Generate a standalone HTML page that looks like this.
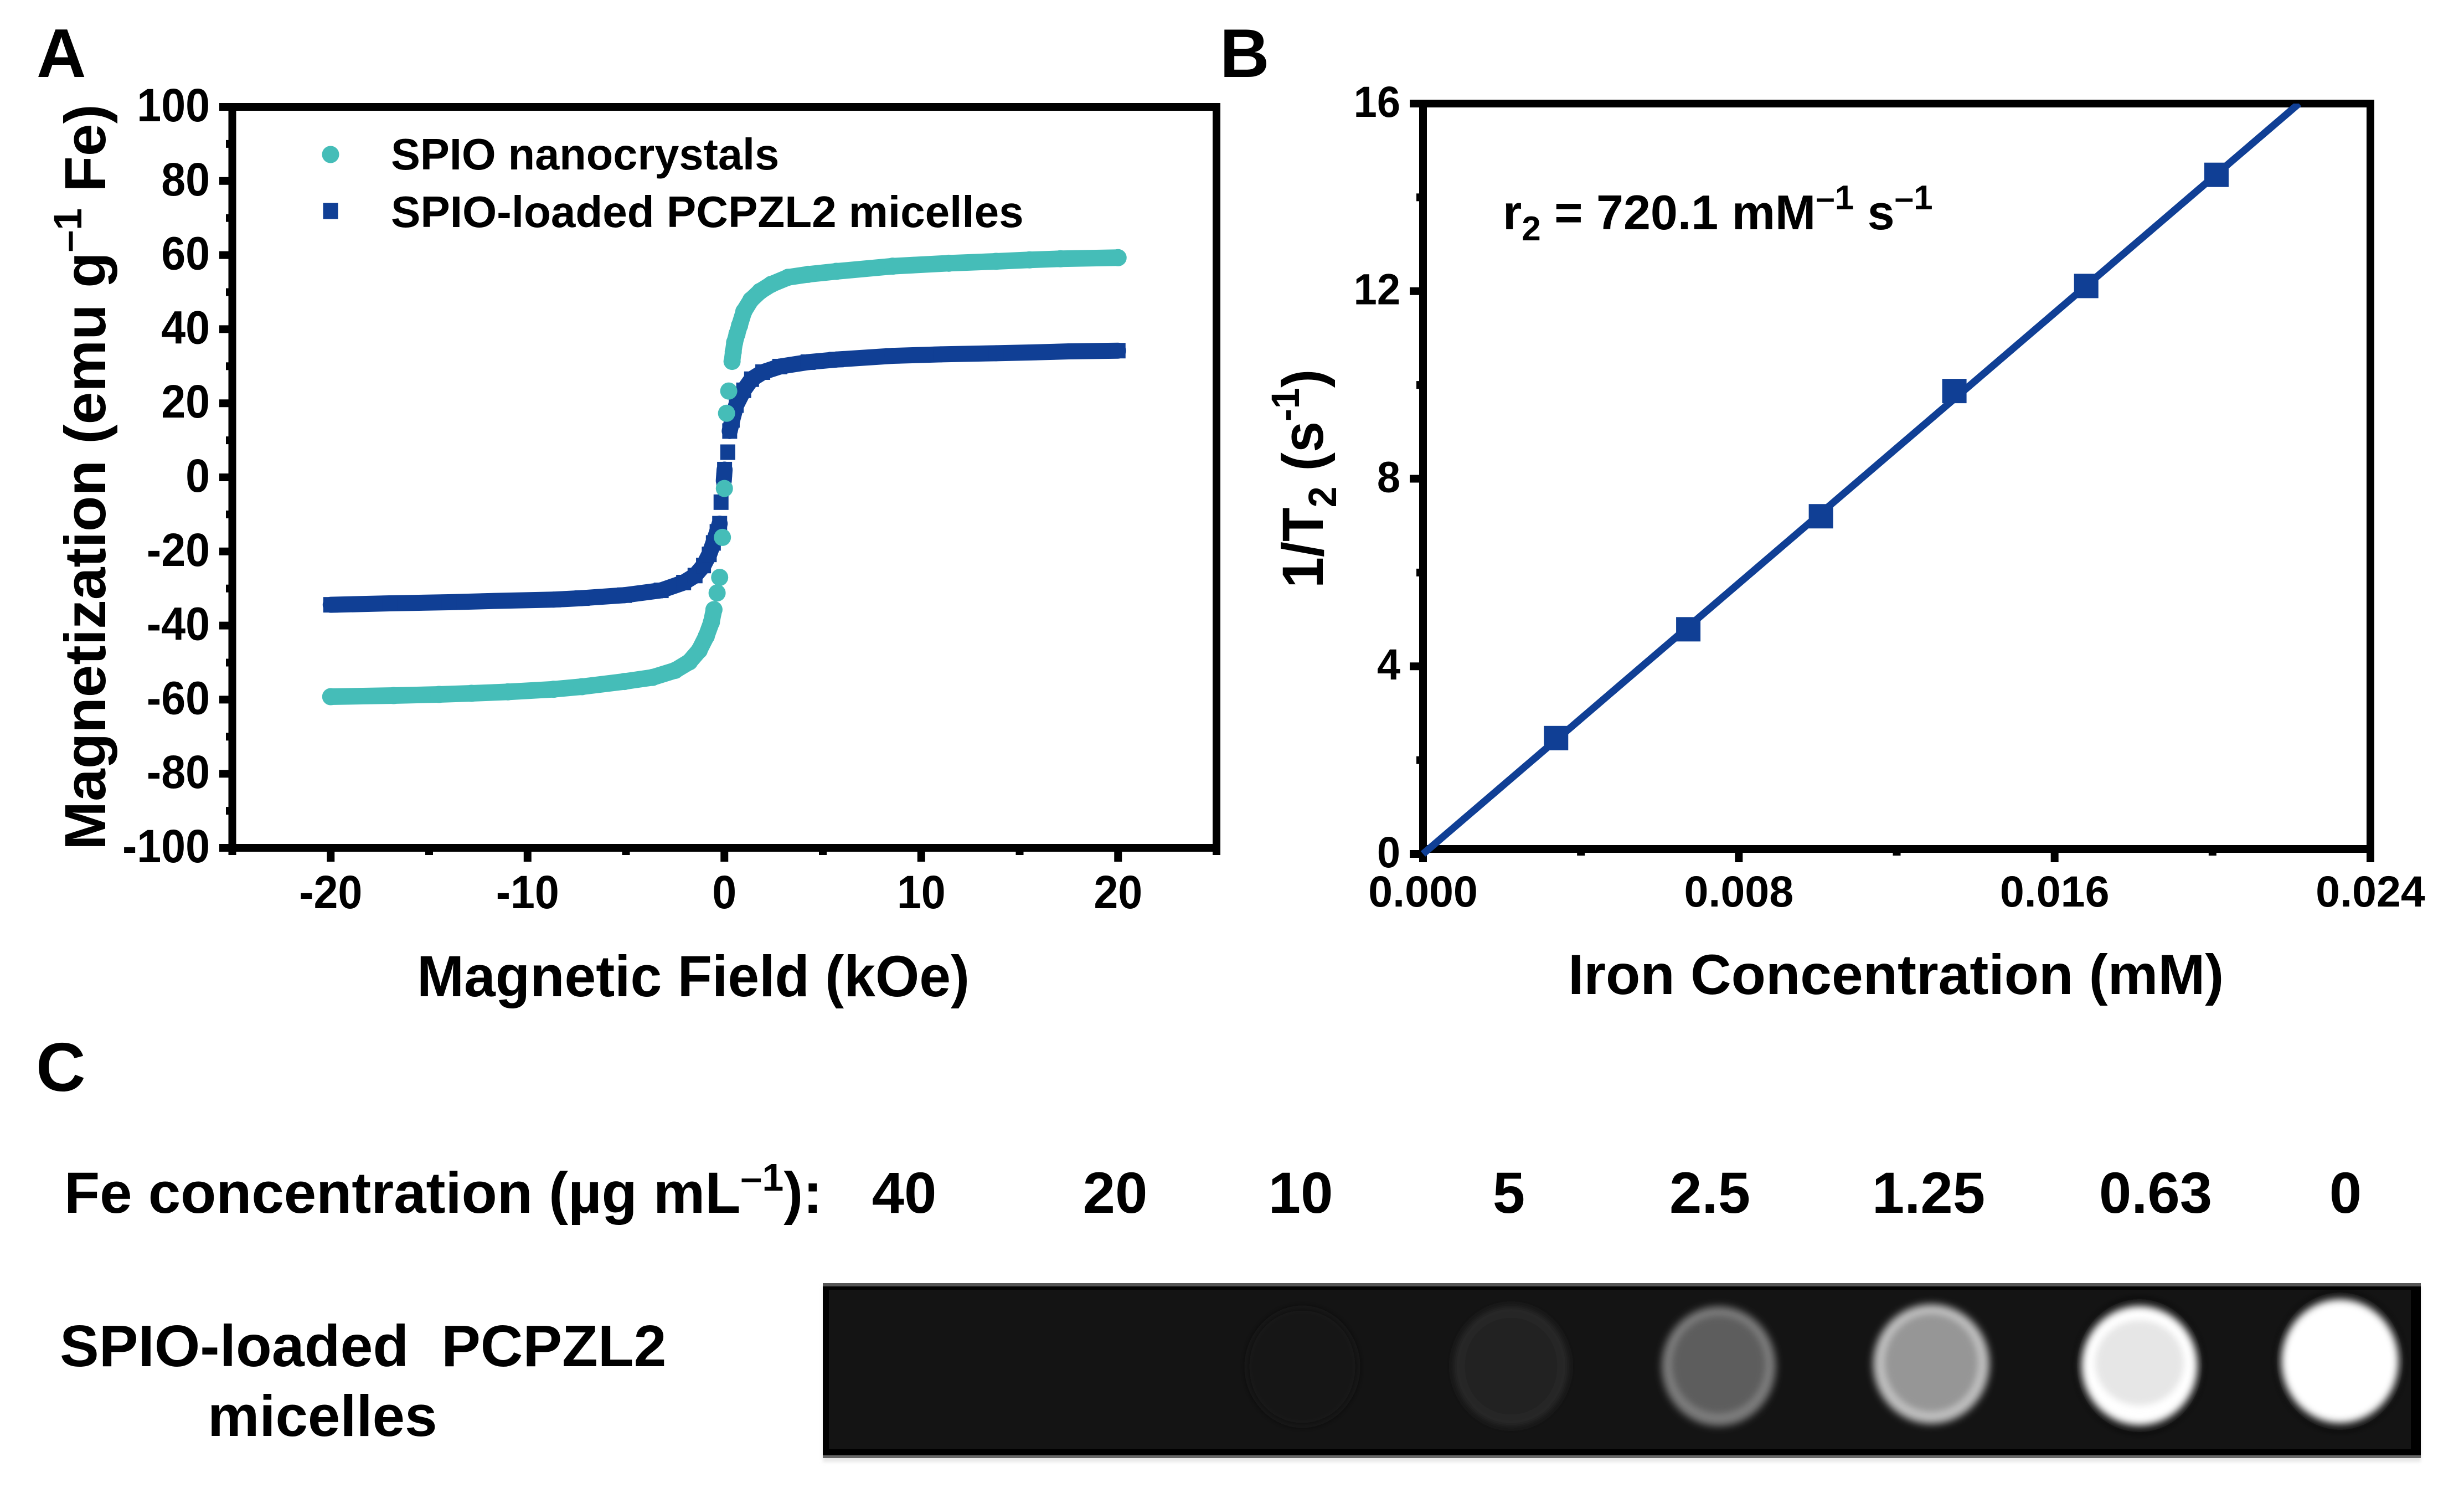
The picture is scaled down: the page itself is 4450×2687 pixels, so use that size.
<!DOCTYPE html>
<html lang="en">
<head>
<meta charset="utf-8">
<title>SPIO magnetization and relaxivity figure</title>
<style>
  html, body { margin: 0; padding: 0; background: #fff; }
  svg { display: block; }
  text { font-family: "Liberation Sans", Arial, sans-serif; font-weight: bold; fill: #000; }
</style>
</head>
<body>
<svg id="figure" xmlns="http://www.w3.org/2000/svg" width="4450" height="2687" viewBox="0 0 4450 2687">
  <defs>
    <filter id="soft" x="-20%" y="-20%" width="140%" height="140%"><feGaussianBlur stdDeviation="7"/></filter>
    <filter id="softer" x="-20%" y="-20%" width="140%" height="140%"><feGaussianBlur stdDeviation="6"/></filter>
    <filter id="edge" x="-5%" y="-20%" width="110%" height="140%"><feGaussianBlur stdDeviation="3"/></filter>
    <clipPath id="plot-b-clip"><rect x="2560" y="187" width="1730" height="1370"/></clipPath>
  </defs>
  <rect width="4450" height="2687" fill="#fff"/>

  <text x="66" y="139" font-size="124">A</text>
  <text x="2203" y="139" font-size="124">B</text>
  <text x="65" y="1970" font-size="124">C</text>

  <g id="panel-a"></g>
  <g id="panel-b"></g>

  <!-- Panel A text -->
  <text transform="translate(190,1535) rotate(-90) scale(1.006,1)" font-size="105">Magnetization (emu g<tspan font-size="71" dy="-43">–1</tspan><tspan dy="43"> Fe)</tspan></text>
  <text transform="translate(753,1799) scale(.972,1)" font-size="105">Magnetic Field (kOe)</text>

  <circle cx="597" cy="279" r="15.5" fill="#45BDB8"/>
  <rect x="583.5" y="366.5" width="27" height="29" fill="#103F95"/>
  <text transform="translate(706,306) scale(.992,1)" font-size="80">SPIO nanocrystals</text>
  <text x="706" y="410" font-size="80">SPIO-loaded PCPZL2 micelles</text>

  <!-- Panel B text -->
  <text transform="translate(2389,1062) rotate(-90) scale(.96,1)" font-size="105">1/T<tspan font-size="71" dy="24">2</tspan><tspan dy="-24"> (s</tspan><tspan font-size="71" dy="-43">-1</tspan><tspan dy="43">)</tspan></text>
  <text x="2832" y="1795" font-size="102">Iron Concentration (mM)</text>
  <text x="2714" y="414" font-size="88">r<tspan font-size="62" dy="20">2</tspan><tspan dy="-20"> = 720.1 mM</tspan><tspan font-size="62" dy="-36">–1</tspan><tspan dy="36"> s</tspan><tspan font-size="62" dy="-36">–1</tspan></text>

  <!-- Panel C text -->
  <text x="116" y="2190" font-size="105">Fe concentration (µg mL<tspan font-size="70" dy="-40">–1</tspan><tspan dy="40">):</tspan></text>
  <g text-anchor="middle" font-size="105">
    <text x="1633" y="2190">40</text>
    <text x="2014" y="2190">20</text>
    <text x="2349" y="2190">10</text>
    <text x="2725" y="2190">5</text>
    <text x="3088" y="2190">2.5</text>
    <text x="3483" y="2190">1.25</text>
    <text x="3893" y="2190">0.63</text>
    <text x="4236" y="2190">0</text>
  </g>
  <text x="108" y="2467" font-size="106" xml:space="preserve">SPIO-loaded  PCPZL2</text>
  <text x="375" y="2593" font-size="105">micelles</text>

  <!-- Panel C phantom image -->
  <g>
    <rect x="1486" y="2322" width="2886" height="318" fill="#e8e8e8" filter="url(#edge)"/>
    <rect x="1486" y="2317" width="2886" height="316" fill="#000"/>
    <rect x="1486" y="2317" width="2886" height="6" fill="#555"/>
    <rect x="1486" y="2628" width="2886" height="5" fill="#666"/>
    <rect x="1497" y="2329" width="2857" height="288" fill="#141414"/>
    <g filter="url(#soft)">
      <ellipse cx="2352" cy="2468" rx="100" ry="106" fill="#191919"/>
      <ellipse cx="2352" cy="2468" rx="88" ry="94" fill="#161616"/>
    </g>
    <g filter="url(#soft)">
      <ellipse cx="2729" cy="2467" rx="103" ry="108" fill="#292929"/>
      <ellipse cx="2729" cy="2467" rx="88" ry="92" fill="#202020"/>
    </g>
    <g>
      <ellipse cx="3104" cy="2467" rx="103" ry="108" fill="#7c7c7c" filter="url(#soft)"/>
      <ellipse cx="3104" cy="2464" rx="84" ry="88" fill="#5d5d5d" filter="url(#softer)"/>
    </g>
    <g>
      <ellipse cx="3488" cy="2463" rx="105" ry="108" fill="#bebebe" filter="url(#soft)"/>
      <ellipse cx="3488" cy="2461" rx="84" ry="88" fill="#969696" filter="url(#softer)"/>
    </g>
    <g>
      <ellipse cx="3864" cy="2466" rx="113" ry="120" fill="#0a0a0a" filter="url(#soft)"/>
      <ellipse cx="3864" cy="2466" rx="105" ry="108" fill="#ffffff" filter="url(#soft)"/>
      <ellipse cx="3864" cy="2461" rx="80" ry="77" fill="#e6e6e6" filter="url(#softer)"/>
    </g>
    <g>
      <ellipse cx="4226" cy="2458" rx="114" ry="124" fill="#0a0a0a" filter="url(#soft)"/>
      <ellipse cx="4226" cy="2458" rx="106" ry="112" fill="#ffffff" filter="url(#soft)"/>
    </g>
  </g>
</svg>

<script>
// ---------- Panel A data ----------
const aXTickValues = [-20, -10, 0, 10, 20];
const aXTickLabels = ['-20', '-10', '0', '10', '20'];
const aXMinorValues = [-25, -15, -5, 5, 15, 25];
const aYTickValues = [100, 80, 60, 40, 20, 0, -20, -40, -60, -80, -100];
const aYTickLabels = ['100', '80', '60', '40', '20', '0', '-20', '-40', '-60', '-80', '-100'];
const aYMinorValues = [90, 70, 50, 30, 10, -10, -30, -50, -70, -90];

const micellesField = [-20, -17, -14, -12, -8.67, -7.23, -5.08, -3.21, -2.07, -1.49, -1.06, -0.77, -0.56, -0.37, -0.24, -0.17, -0.03, 0.01, 0.17, 0.27, 0.4, 0.6, 0.98, 1.38, 1.95, 2.81, 4.25, 5.68, 8.55, 11, 13.8, 15.5, 17.5, 20];
const micellesMag = [-34.4, -34, -33.7, -33.4, -33, -32.6, -31.8, -30.5, -28.4, -26.5, -23.8, -20.8, -17.7, -14.7, -12.5, -6.7, -0.9, 2.1, 6.8, 12.5, 15.5, 19.5, 23.5, 26.5, 28.4, 29.9, 31.1, 31.8, 32.8, 33.2, 33.5, 33.7, 34, 34.2];

const nanocrystalsField = [-20, -16.8, -14.5, -12.85, -11, -8.67, -7.23, -5.08, -3.65, -2.5, -1.78, -1.28, -0.92, -0.66, -0.53, -0.37, -0.24, -0.1, 0, 0.11, 0.22, 0.39, 0.45, 0.52, 0.64, 0.77, 0.99, 1.35, 1.81, 2.38, 3.24, 4.25, 5.68, 8.55, 11.4, 13.8, 15.5, 17.07, 20];
const nanocrystalsMag = [-59.2, -58.9, -58.6, -58.3, -57.9, -57.2, -56.5, -55.1, -54, -52.1, -49.8, -46.7, -42.9, -39.1, -35.7, -31.2, -27, -16.2, -3, 17.3, 23.3, 31.3, 33.9, 36.4, 38.7, 41, 44.8, 47.9, 50.2, 52.1, 54, 54.8, 55.6, 57, 57.8, 58.3, 58.7, 59, 59.3];

// ---------- Panel B data ----------
const bXTickValues = [0, 0.008, 0.016, 0.024];
const bXTickLabels = ['0.000', '0.008', '0.016', '0.024'];
const bXMinorValues = [0.004, 0.012, 0.02];
const bYTickValues = [16, 12, 8, 4, 0];
const bYTickLabels = ['16', '12', '8', '4', '0'];
const bYMinorValues = [14, 10, 6, 2];

const ironConcentration = [0.00337, 0.00672, 0.01008, 0.01346, 0.0168, 0.0201];
const relaxationRate = [2.47, 4.79, 7.2, 9.87, 12.11, 14.48];
const fitConcentration = [0, 0.02219];
const fitRate = [0, 16];

// ---------- Helpers ----------
const SVG_NS = 'http://www.w3.org/2000/svg';
function make(parent, tag, attrs, content) {
  const el = document.createElementNS(SVG_NS, tag);
  for (const k in attrs) el.setAttribute(k, attrs[k]);
  if (content !== undefined) el.textContent = content;
  parent.appendChild(el);
  return el;
}

// ---------- Axis functions ----------
const aX = v => 419.5 + (v + 25) * 35.55;
const aY = v => 862 - v * 6.69;
const bX = v => 2570 + v * 71291.7;
const bY = v => 1542 - v * 84.69;

const COLOR_TEAL = '#45BDB8';
const COLOR_BLUE = '#103F95';

// ---------- Panel A ----------
const gA = document.getElementById('panel-a');

function drawSeriesBand(parent, xs, ys, color, width, cap) {
  for (let i = 0; i < xs.length - 1; i++) {
    const x1 = aX(xs[i]), y1 = aY(ys[i]), x2 = aX(xs[i + 1]), y2 = aY(ys[i + 1]);
    if (Math.abs(y2 - y1) < 28) {
      const seg = make(parent, 'line', { x1: x1, y1: y1, x2: x2, y2: y2, stroke: color, 'stroke-width': width, 'stroke-linecap': cap });
      
      
    }
  }
}

const micellesGroup = make(gA, 'g', {});


drawSeriesBand(micellesGroup, micellesField, micellesMag, COLOR_BLUE, 29, 'round');
micellesField.forEach((f, i) => {
  const pt = make(micellesGroup, 'rect', { x: aX(f) - 13.5, y: aY(micellesMag[i]) - 14, width: 27, height: 28, fill: COLOR_BLUE });
  
  
});

const nanoGroup = make(gA, 'g', {});


drawSeriesBand(nanoGroup, nanocrystalsField, nanocrystalsMag, COLOR_TEAL, 30, 'round');
nanocrystalsField.forEach((f, i) => {
  const pt = make(nanoGroup, 'circle', { cx: aX(f), cy: aY(nanocrystalsMag[i]), r: 15.5, fill: COLOR_TEAL });
  
  
});

const frameA = make(gA, 'rect', { x: aX(-25), y: aY(100), width: aX(25) - aX(-25), height: aY(-100) - aY(100), fill: 'none', stroke: '#000', 'stroke-width': 14 });



aYTickValues.forEach((v, i) => {
  const t = make(gA, 'line', { x1: 396, x2: aX(-25), y1: aY(v), y2: aY(v), stroke: '#000', 'stroke-width': 14 });
  
  
  const lbl = make(gA, 'text', { transform: 'translate(379,' + (aY(v) + 26) + ') scale(.94,1)', 'text-anchor': 'end', 'font-size': 84 }, aYTickLabels[i]);
  
  
});
aYMinorValues.forEach(v => {
  const t = make(gA, 'line', { x1: 408, x2: aX(-25), y1: aY(v), y2: aY(v), stroke: '#000', 'stroke-width': 14 });
  
  
});
aXTickValues.forEach((v, i) => {
  const t = make(gA, 'line', { x1: aX(v), x2: aX(v), y1: aY(-100), y2: 1556, stroke: '#000', 'stroke-width': 14 });
  
  
  const lbl = make(gA, 'text', { transform: 'translate(' + aX(v) + ',1640) scale(.94,1)', 'text-anchor': 'middle', 'font-size': 84 }, aXTickLabels[i]);
  
  
});
aXMinorValues.forEach(v => {
  const t = make(gA, 'line', { x1: aX(v), x2: aX(v), y1: aY(-100), y2: 1544, stroke: '#000', 'stroke-width': 14 });
  
  
});

// ---------- Panel B ----------
const gB = document.getElementById('panel-b');
const B_TOP = 187, B_BOTTOM = 1533, B_LEFT = bX(0), B_RIGHT = bX(0.024);

const frameB = make(gB, 'rect', { x: B_LEFT, y: B_TOP, width: B_RIGHT - B_LEFT, height: B_BOTTOM - B_TOP, fill: 'none', stroke: '#000', 'stroke-width': 14 });



bYTickValues.forEach((v, i) => {
  const t = make(gB, 'line', { x1: 2546, x2: B_LEFT, y1: bY(v), y2: bY(v), stroke: '#000', 'stroke-width': 14 });
  
  
  const lbl = make(gB, 'text', { transform: 'translate(2529,' + (bY(v) + 24) + ') scale(.96,1)', 'text-anchor': 'end', 'font-size': 79 }, bYTickLabels[i]);
  
  
});
bYMinorValues.forEach(v => {
  const t = make(gB, 'line', { x1: 2558, x2: B_LEFT, y1: bY(v), y2: bY(v), stroke: '#000', 'stroke-width': 14 });
  
  
});
bXTickValues.forEach((v, i) => {
  const t = make(gB, 'line', { x1: bX(v), x2: bX(v), y1: B_BOTTOM, y2: 1557, stroke: '#000', 'stroke-width': 14 });
  
  
  const lbl = make(gB, 'text', { x: bX(v), y: 1637, 'text-anchor': 'middle', 'font-size': 79 }, bXTickLabels[i]);
  
  
});
bXMinorValues.forEach(v => {
  const t = make(gB, 'line', { x1: bX(v), x2: bX(v), y1: B_BOTTOM, y2: 1545, stroke: '#000', 'stroke-width': 14 });
  
  
});

const fitLine = make(gB, 'line', { x1: bX(fitConcentration[0]), y1: bY(fitRate[0]), x2: bX(fitConcentration[1]), y2: bY(fitRate[1]), stroke: COLOR_BLUE, 'stroke-width': 13, 'clip-path': 'url(#plot-b-clip)' });



ironConcentration.forEach((c, i) => {
  const pt = make(gB, 'rect', { x: bX(c) - 22, y: bY(relaxationRate[i]) - 22, width: 44, height: 44, fill: COLOR_BLUE });
  
  
});
</script>
</body>
</html>
